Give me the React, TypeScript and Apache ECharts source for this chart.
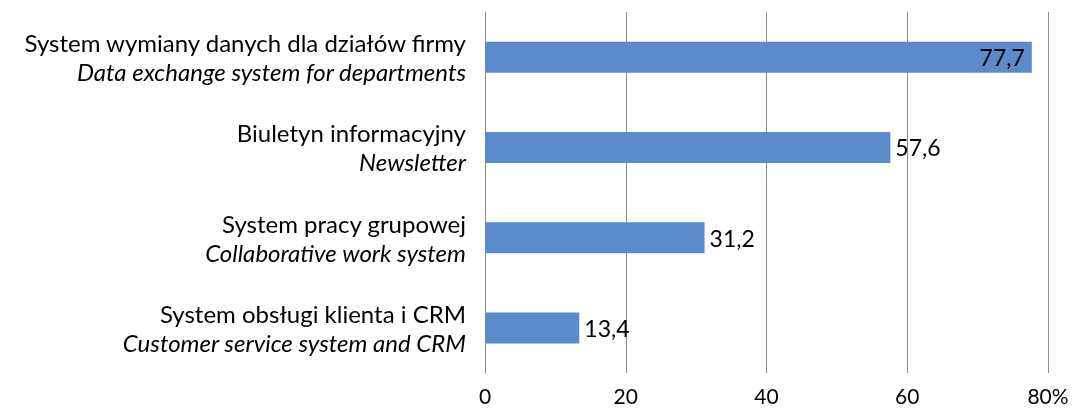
import React, { useEffect, useRef } from "react";
import * as echarts from "echarts";

const categoriesPl = [
  "System wymiany danych dla działów firmy",
  "Biuletyn informacyjny",
  "System pracy grupowej",
  "System obsługi klienta i CRM",
];
const categoriesEn = [
  "Data exchange system for departments",
  "Newsletter",
  "Collaborative work system",
  "Customer service system and CRM",
];
const values = [77.7, 57.6, 31.2, 13.4];
const insideLabel = [true, false, false, false];
const xTicks = { min: 0, max: 80, interval: 20 };

const FONT = "Lato, 'Open Sans', sans-serif";

export default function App() {
  const ref = useRef<HTMLDivElement>(null);
  useEffect(() => {
    if (!ref.current) return;
    const chart = echarts.init(ref.current, undefined, { renderer: "svg" });
    chart.setOption({
      animation: false,
      grid: { left: 485, right: 25, top: 12, bottom: 36 },
      xAxis: {
        type: "value",
        min: xTicks.min,
        max: xTicks.max,
        interval: xTicks.interval,
        axisLine: { show: false },
        axisTick: { show: false },
        splitLine: { show: true, lineStyle: { color: "#8c8c8c", width: 1 } },
        axisLabel: {
          color: "#000",
          fontSize: 21,
          lineHeight: 20,
          fontFamily: FONT,
          margin: 12,
          formatter: (v: number) => (v === xTicks.max ? v + "%" : String(v)),
        },
      },
      yAxis: {
        type: "category",
        inverse: true,
        data: categoriesPl.map((c, i) => c + "\n" + categoriesEn[i]),
        axisLine: { show: true, lineStyle: { color: "#8c8c8c", width: 1 } },
        axisTick: { show: false },
        axisLabel: {
          margin: 19,
          align: "right",
          formatter: (v: string) => {
            const [a, b] = v.split("\n");
            return "{a|" + a + "}\n{b|" + b + "}";
          },
          rich: {
            a: { fontSize: 24, fontFamily: FONT, color: "#000", lineHeight: 29, align: "right" },
            b: { fontSize: 24, fontFamily: FONT, fontStyle: "italic", color: "#000", lineHeight: 29, align: "right" },
          },
        },
      },
      series: [
        {
          type: "bar",
          barWidth: 31,
          itemStyle: { color: "#5b8bcb" },
          data: values.map((v, i) => ({
            value: v,
            label: {
              show: true,
              position: insideLabel[i] ? "insideRight" : "right",
              distance: insideLabel[i] ? 7 : 5,
              color: "#000",
              fontSize: 23,
              fontFamily: FONT,
              formatter: (p: any) => String(p.value).replace(".", ","),
            },
          })),
        },
      ],
    });
    return () => chart.dispose();
  }, []);
  return (
    <div
      ref={ref}
      style={{ position: "fixed", left: 0, top: 0, width: 1073, height: 409 }}
    />
  );
}
